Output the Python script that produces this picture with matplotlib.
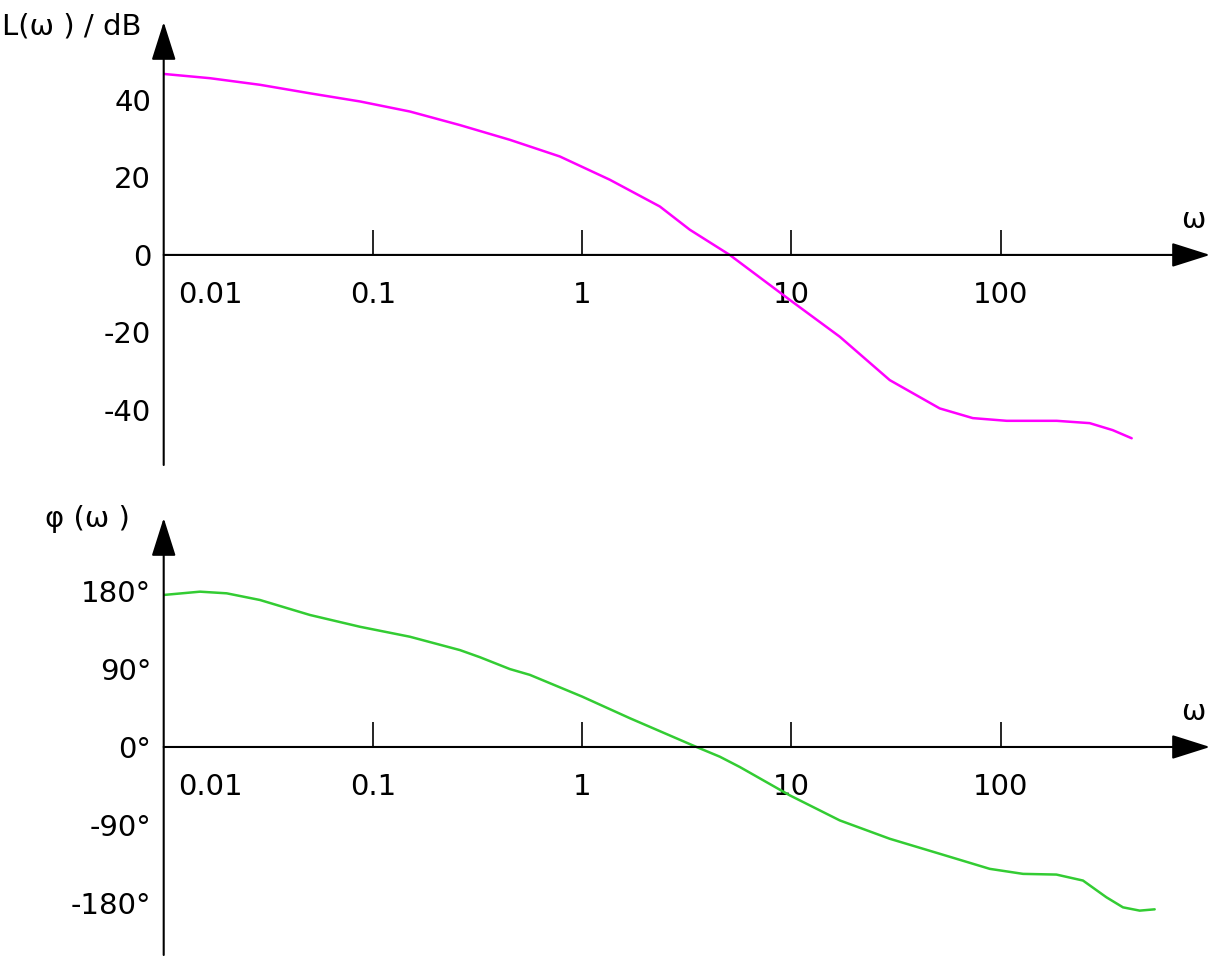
import numpy as np
import matplotlib.pyplot as plt

# Magnitude curve L(w) in dB
freq_mag = [0.01, 0.01664, 0.02884, 0.05, 0.0867, 0.1502, 0.2604, 0.4512, 0.782,
            1.355, 2.349, 3.268, 5.07, 9.815, 17.01, 29.49, 51.1, 73.5, 106.8,
            185.1, 266.1, 342.7, 422.4]
mag_db = [46.7, 45.6, 43.9, 41.7, 39.6, 37.0, 33.5, 29.7, 25.4,
          19.4, 12.5, 6.5, 0.0, -11.6, -21.1, -32.3, -39.6, -42.1, -42.8,
          -42.8, -43.4, -45.2, -47.3]

# Phase curve phi(w) in degrees
freq_ph = [0.01, 0.01491, 0.02, 0.02884, 0.05, 0.0867, 0.1502, 0.2604, 0.3243,
           0.4512, 0.5623, 1.0, 1.689, 3.517, 4.545, 5.664, 9.815, 17.01, 29.49,
           51.1, 88.6, 127.8, 184.5, 247.2, 319.8, 383.8, 461.3, 544.0]
phase_deg = [175.4, 179.2, 177.3, 169.6, 152.3, 138.7, 127.2, 111.8, 103.6,
             89.9, 83.2, 58.1, 33.2, 0.0, -11.2, -23.1, -55.8, -84.7, -105.9,
             -123.2, -140.6, -146.4, -147.2, -154.1, -173.4, -185.0, -188.8, -187.3]

xtick_vals = [0.1, 1, 10, 100]
xtick_labels = ['0.1', '1', '10', '100']
mag_ticks = [40, 20, 0, -20, -40]
mag_tick_labels = ['40', '20', '0', '-20', '-40']
ph_ticks = [180, 90, 0, -90, -180]
ph_tick_labels = ['180°', '90°', '0°', '-90°', '-180°']

W, H = 1220, 967
plt.rcParams['font.family'] = 'DejaVu Sans'
fig = plt.figure(figsize=(W / 100, H / 100), dpi=100)
FS = 21

x0, x1 = 163.7, 1210


def make_axes(top_px, bottom_px, ylim):
    ax = fig.add_axes([x0 / W, 1 - bottom_px / H, (x1 - x0) / W, (bottom_px - top_px) / H])
    ax.set_xscale('log')
    ax.set_xlim(0.01, 1000)
    ax.set_ylim(*ylim)
    for s in ['top', 'right', 'left']:
        ax.spines[s].set_visible(False)
    ax.spines['bottom'].set_position(('data', 0))
    ax.spines['bottom'].set_visible(False)
    ax.set_xticks(xtick_vals)
    ax.set_xticklabels(xtick_labels, fontsize=FS)
    ax.xaxis.set_minor_locator(plt.NullLocator())
    ax.tick_params(axis='x', direction='in', length=18, width=1.2, pad=19)
    ax.tick_params(axis='y', length=0, pad=9, labelsize=FS)
    ax.patch.set_alpha(0)
    arrow = dict(arrowstyle='-|>,head_length=2.4,head_width=0.76', mutation_scale=10,
                 lw=1.5, color='black', shrinkA=0, shrinkB=0)
    ax.annotate('', xy=(1000, 0), xytext=(0.01, 0), arrowprops=arrow, annotation_clip=False)
    ax.annotate('', xy=(0.01, ylim[1]), xytext=(0.01, ylim[0]), arrowprops=arrow,
                annotation_clip=False)
    ax.annotate('0.01', xy=(0.01, 0), xytext=(47, -19 / 0.72), textcoords='offset pixels',
                ha='center', va='top', fontsize=FS)
    ax.annotate('ω', xy=(1000, 0), xytext=(-17, 27), textcoords='offset pixels',
                ha='center', va='baseline', fontsize=FS)
    return ax


ax1 = make_axes(22, 465, (-54.2, 60.1))
ax1.set_yticks(mag_ticks)
ax1.set_yticklabels(mag_tick_labels)
ax1.plot(freq_mag, mag_db, color='#ff00ff', lw=1.8, solid_capstyle='round',
         solid_joinstyle='round')
ax1.annotate('L(ω ) / dB', xy=(0.01, 60.1), xytext=(-22, -12), textcoords='offset pixels',
             ha='right', va='baseline', fontsize=FS, annotation_clip=False)

ax2 = make_axes(518, 955, (-240, 264.2))
ax2.set_yticks(ph_ticks)
ax2.set_yticklabels(ph_tick_labels)
ax2.plot(freq_ph, phase_deg, color='#33cc33', lw=1.8, solid_capstyle='round',
         solid_joinstyle='round')
ax2.annotate('φ (ω )', xy=(0.01, 264.2), xytext=(-34, -9), textcoords='offset pixels',
             ha='right', va='baseline', fontsize=FS, annotation_clip=False)

fig.savefig('out.png', dpi=100)
